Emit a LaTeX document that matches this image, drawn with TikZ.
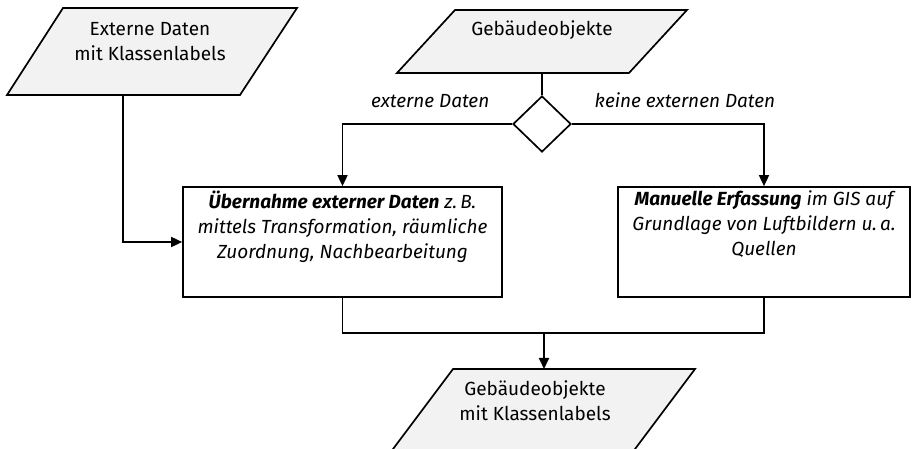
\documentclass[tikz,border=0pt]{standalone}
\usepackage{fontspec}
\setmainfont{Fira Sans}
\usetikzlibrary{arrows.meta,shapes.geometric,positioning}

\begin{document}
\begin{tikzpicture}[x=0.5pt,y=-0.5pt,
  font=\fontsize{9.5}{12.5}\selectfont,
  line width=0.85pt,
  arr/.style={-{Triangle[length=5.5pt,width=5pt]}},
  iobox/.style={fill=gray!10,draw=black},
  procbox/.style={draw,minimum height=55pt,inner sep=0pt},
  decision/.style={diamond,draw,minimum width=29pt,minimum height=28pt,inner sep=0pt},
  lbl/.style={font=\fontsize{9.5}{12.5}\selectfont\itshape,inner sep=1pt}]
  \clip (0,0) rectangle (912,449);

  % Eingabedaten
  \filldraw[iobox] (63,8) -- (297,8) -- (240,95) -- (7,95) -- cycle;
  \node[align=center] (extern) at (150,42) {Externe Daten\\mit Klassenlabels};
  \coordinate (externfuss) at (123,95);

  \filldraw[iobox] (455,10) -- (687,10) -- (629,73) -- (397,73) -- cycle;
  \node (gebaeude) at (542,30) {Gebäudeobjekte};
  \coordinate (gebaeudefuss) at (542,73);

  % Verzweigung
  \node[decision] (weiche) at (542,124) {};
  \node[lbl,anchor=south east] (lblextern) at ([xshift=-10pt,yshift=6.5pt]weiche.west) {externe Daten};
  \node[lbl,anchor=south west] (lblkeine) at ([xshift=10pt,yshift=6.5pt]weiche.east) {keine externen Daten};

  % Bearbeitungsschritte
  \node[procbox,minimum width=159.5pt] (uebernahme) at (342.5,242)
    {\parbox[c][55pt][t]{155pt}{\centering\itshape\vspace*{2pt}%
      \textbf{Übernahme externer Daten} z.\,B.\\mittels Transformation, räumliche\\Zuordnung, Nachbearbeitung}};
  \node[procbox,minimum width=146pt] (manuell) at (764,242)
    {\parbox[c][55pt][t]{142pt}{\centering\itshape\vspace*{2pt}%
      \textbf{Manuelle Erfassung} im GIS auf\\Grundlage von Luftbildern u.\,a.\\Quellen}};

  % Ergebnis
  \coordinate (sammel) at (544,333);
  \coordinate (ergebniskopf) at (544,369);
  \filldraw[iobox] (453,369) -- (695,369) -- (617,473) -- (375,473) -- cycle;
  \node[align=center] (ergebnis) at (535,401) {Gebäudeobjekte\\mit Klassenlabels};

  % Verbindungen
  \draw[arr] (externfuss) |- (uebernahme.west);
  \draw (gebaeudefuss) -- (weiche.north);
  \draw[arr] (weiche.west) -| (uebernahme.north);
  \draw[arr] (weiche.east) -| (manuell.north);
  \draw (uebernahme.south) |- (sammel) -| (manuell.south);
  \draw[arr] (sammel) -- (ergebniskopf);
\end{tikzpicture}
\end{document}
